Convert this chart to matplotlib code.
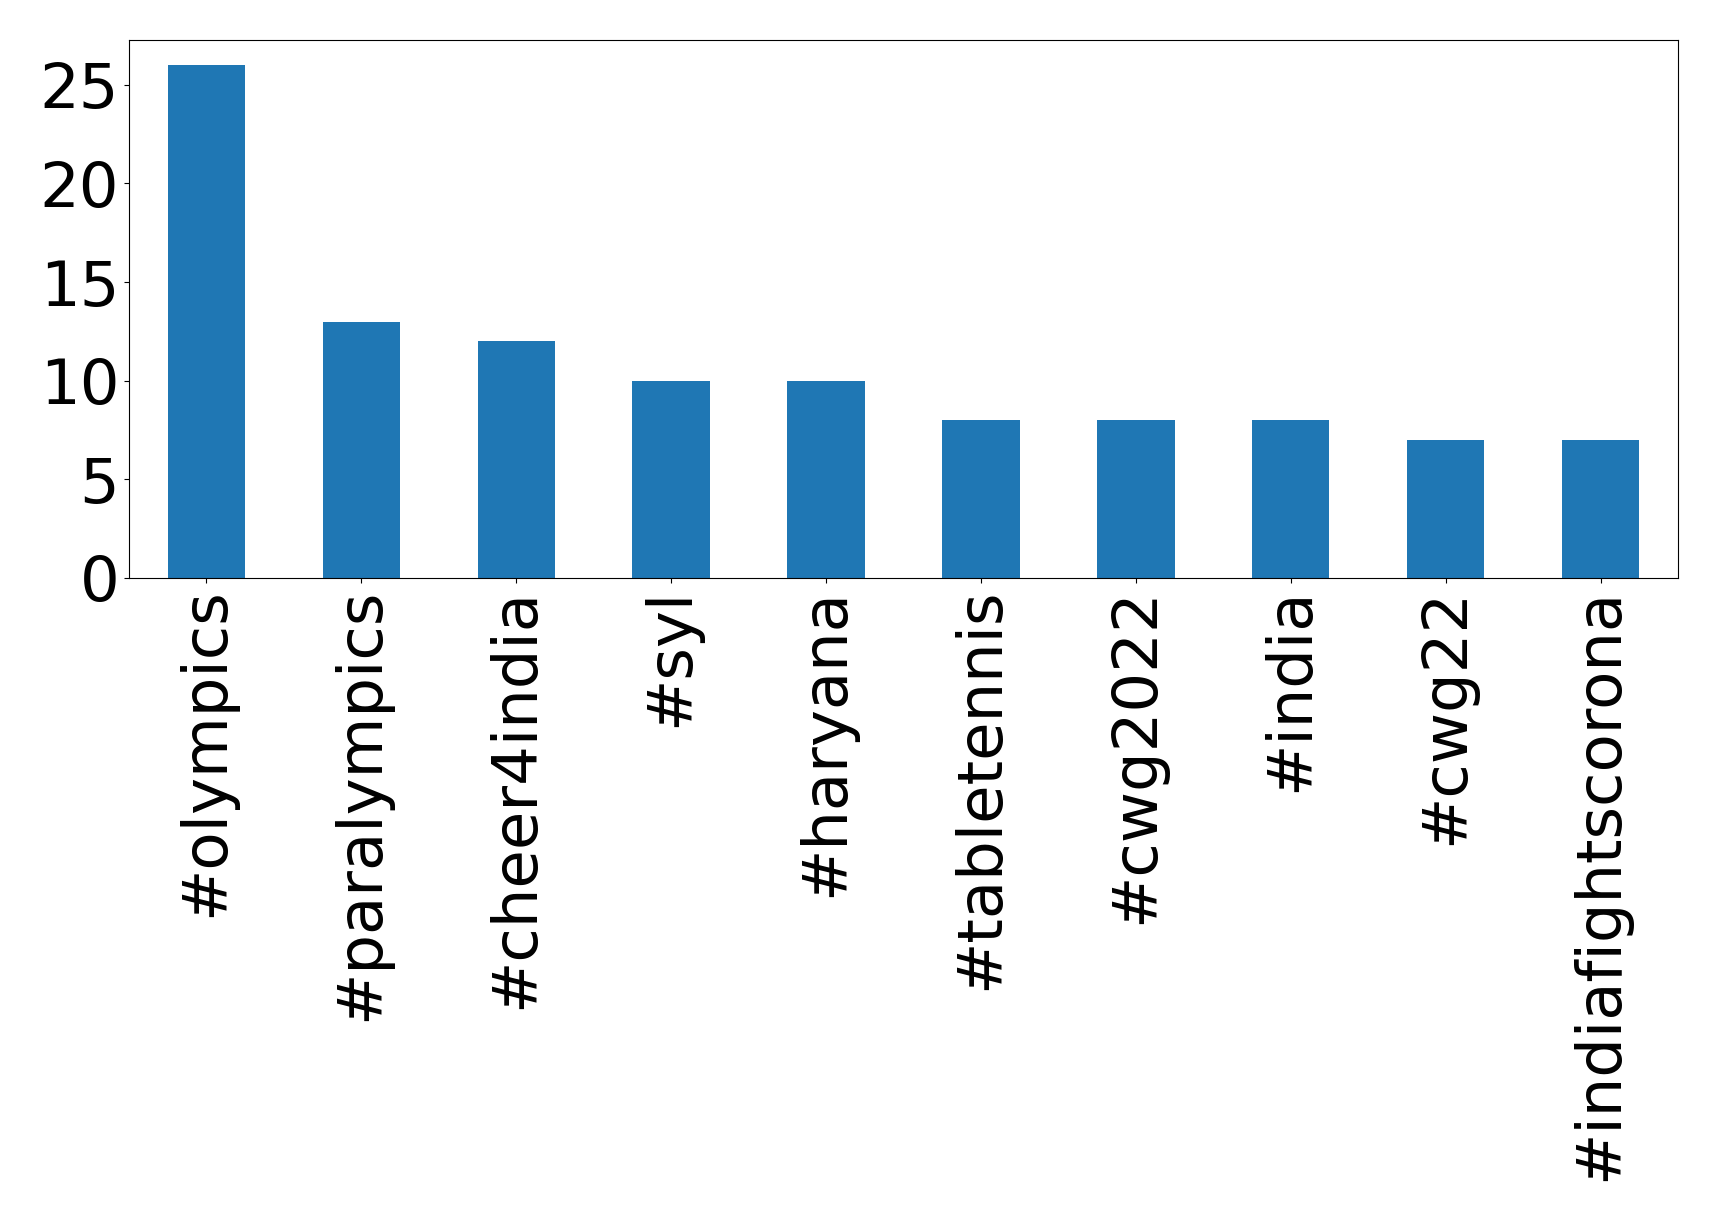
import matplotlib
matplotlib.use("Agg")
import matplotlib.pyplot as plt

categories = ["#olympics", "#paralympics", "#cheer4india", "#syl", "#haryana",
              "#tabletennis", "#cwg2022", "#india", "#cwg22", "#indiafightscorona"]
counts = [26, 13, 12, 10, 10, 8, 8, 8, 7, 7]
yticks = [0, 5, 10, 15, 20, 25]

fig = plt.figure(figsize=(17.19, 12.21), dpi=100)
ax = fig.add_axes([129/1719, 1 - 578/1221, (1678-129)/1719, (578-39.5)/1221])
x = range(len(categories))
ax.bar(x, counts, width=0.5, color="#1f77b4")
ax.set_xlim(-0.5, len(categories) - 0.5)
ax.set_xticks(list(x))
ax.set_xticklabels(categories, rotation=90, fontsize=45)
ax.set_yticks(yticks)
ax.tick_params(axis="y", labelsize=45)
fig.savefig("out.png", dpi=100)
